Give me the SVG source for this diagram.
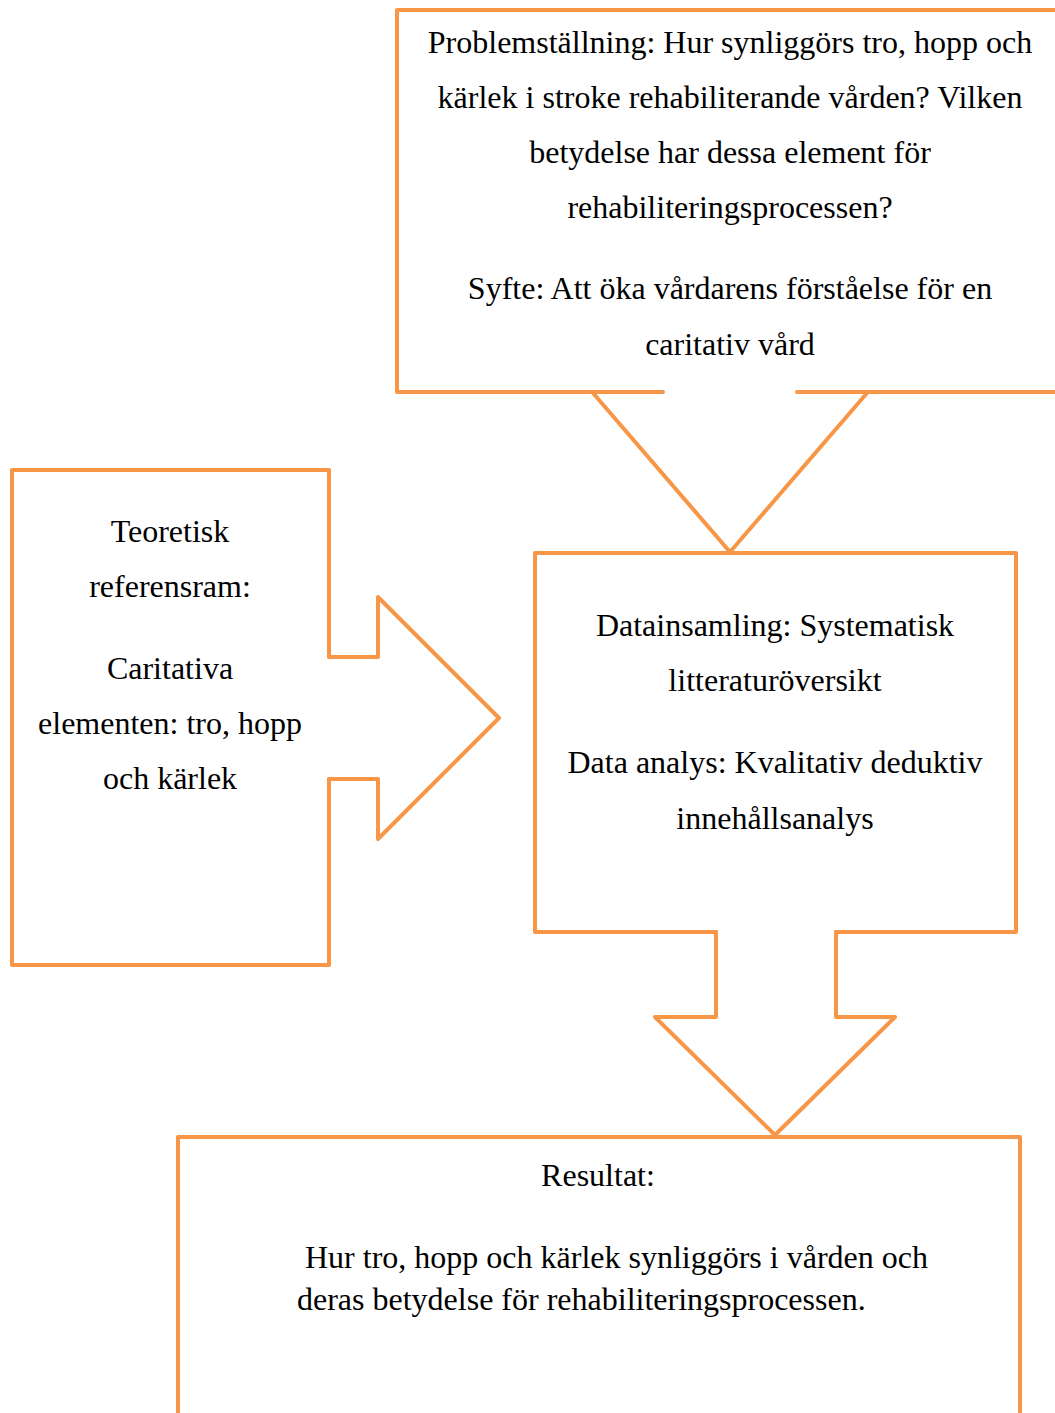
<svg xmlns="http://www.w3.org/2000/svg" width="1055" height="1413" viewBox="0 0 1055 1413">
<style>
.s{fill:none;stroke:#F79646;stroke-width:4;stroke-linejoin:round;stroke-linecap:round}
text{font-family:"Liberation Serif","Times New Roman",serif;font-size:32px;fill:#000}
.c{text-anchor:middle}
</style>
<rect width="1055" height="1413" fill="#fff"/>
<g id="node-problem">
<path class="s" d="M1057,10 H397 V392 H663 M797,392 H1057"/>
<text class="c" x="730" y="53">Problemställning: Hur synliggörs tro, hopp och</text>
<text class="c" x="730" y="108">kärlek i stroke rehabiliterande vården? Vilken</text>
<text class="c" x="730" y="163">betydelse har dessa element för</text>
<text class="c" x="730" y="218">rehabiliteringsprocessen?</text>
<text class="c" x="730" y="299">Syfte: Att öka vårdarens förståelse för en</text>
<text class="c" x="730" y="355">caritativ vård</text>
</g>
<g id="node-teori">
<path class="s" d="M329,657 V470 H12 V965 H329 V779"/>
<text class="c" x="170" y="542">Teoretisk</text>
<text class="c" x="170" y="597">referensram:</text>
<text class="c" x="170" y="679">Caritativa</text>
<text class="c" x="170" y="734">elementen: tro, hopp</text>
<text class="c" x="170" y="789">och kärlek</text>
</g>
<g id="node-data">
<path class="s" d="M716,932 H535 V553 H1016 V932 H836"/>
<text class="c" x="775" y="636">Datainsamling: Systematisk</text>
<text class="c" x="775" y="691">litteraturöversikt</text>
<text class="c" x="775" y="773">Data analys: Kvalitativ deduktiv</text>
<text class="c" x="775" y="829">innehållsanalys</text>
</g>
<g id="node-resultat">
<path class="s" d="M178,1415 V1137 H1020 V1415"/>
<text class="c" x="598" y="1186">Resultat:</text>
<text x="305" y="1268">Hur tro, hopp och kärlek synliggörs i vården och</text>
<text x="297" y="1310">deras betydelse för rehabiliteringsprocessen.</text>
</g>
<g id="connectors">
<path class="s" d="M593,393 L730,552 L867,393"/>
<path class="s" d="M329,657 H378 V597 L499,718 L378,839 V779 H329"/>
<path class="s" d="M716,932 V1017 H655 L775,1135 L895,1017 H836 V932"/>
</g>
</svg>
